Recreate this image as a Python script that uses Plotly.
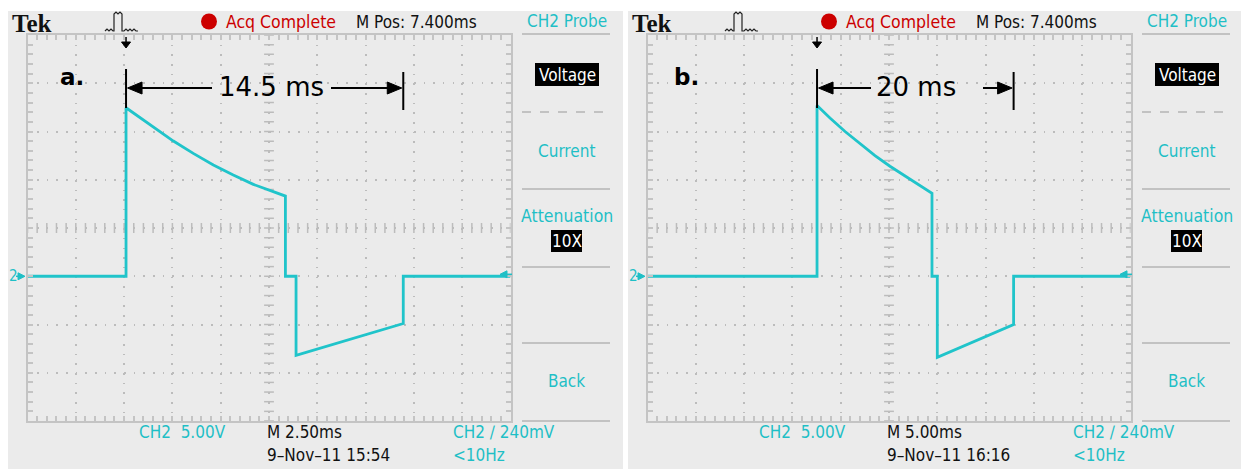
import numpy as np
import plotly.graph_objects as go

W, H = 1241, 469

# ---------------- data (time in ms from left screen edge, volts relative to CH2 ground) -------------
t_a = [0, 5.10, 5.10, 5.82, 6.51, 7.55, 8.58, 9.62, 10.65, 11.69, 12.72, 13.35, 13.35, 13.90, 13.90, 19.45, 19.45, 25]
v_a = [0, 0, 17.46, 16.45, 15.55, 14.01, 12.73, 11.52, 10.49, 9.52, 8.77, 8.31, 0, 0, -8.2, -4.9, 0, 0]
t_b = [0, 17.55, 17.55, 18.89, 20.45, 22.0, 23.55, 25.10, 26.65, 28.21, 29.45, 29.45, 30.0, 30.0, 37.9, 37.9, 50]
v_b = [0, 0, 17.70, 16.40, 15.00, 13.70, 12.50, 11.40, 10.40, 9.45, 8.60, 0, 0, -8.4, -5.0, 0, 0]

ms_per_div = [2.5, 5.0]
volts_per_div = 5.0
panel_tags = ["a.", "b."]
span_labels = ["14.5 ms", "20 ms"]
span_start = [5.10, 17.55]
span_end = [19.45, 37.9]
timebase_labels = ["M 2.50ms", "M 5.00ms"]
date_labels = ["9\u2013Nov\u201311 15:54", "9\u2013Nov\u201311 16:16"]
menu_items = ["CH2 Probe", "Current", "Attenuation", "Back"]

# ---------------- geometry helpers -------------
OFF = [0, 620]
GX0, GX1 = 27.5, 510.5
GY0, GY1 = 35, 421
DIV = (GX1 - GX0) / 10.0

def px(x):
    return x / W

def py(y):
    return 1 - y / H

CYAN = "#1fbfc6"
TRACE = "#20c4ca"
GRAY_BG = "#ebebeb"
GRID = "#bcbcbc"
FRAME = "#c4c4c4"
SCOPE_FONT = "DejaVu Sans Condensed, Liberation Sans Narrow, Roboto, sans-serif"

fig = go.Figure()
shapes = []
ann = []

for i in range(2):
    o = OFF[i]
    xa = "x" if i == 0 else "x2"
    ya = "y" if i == 0 else "y2"
    xrng = [0, 10 * ms_per_div[i]]
    yrng = [-3 * volts_per_div, 5 * volts_per_div]

    # gray bezel
    shapes.append(dict(type="rect", xref="paper", yref="paper", layer="below",
                       x0=px(8 + o), x1=px(623 + o if i == 0 else W), y0=py(469), y1=py(11),
                       fillcolor=GRAY_BG, line=dict(width=0)))

    # center-line tick marks (graticule)
    xc = (xrng[0] + xrng[1]) / 2
    yc = (yrng[0] + yrng[1]) / 2
    ys = np.arange(yrng[0], yrng[1] + 1e-9, volts_per_div / 5)
    xs = np.arange(xrng[0], xrng[1] + 1e-9, ms_per_div[i] / 5)
    fig.add_trace(go.Scatter(x=[xc] * len(ys), y=ys, mode="markers", xaxis=xa, yaxis=ya,
                             marker=dict(symbol="line-ew", size=7, line=dict(color=GRID, width=1.5)),
                             hoverinfo="skip", showlegend=False))
    fig.add_trace(go.Scatter(x=xs, y=[yc] * len(xs), mode="markers", xaxis=xa, yaxis=ya,
                             marker=dict(symbol="line-ns", size=7, line=dict(color=GRID, width=1.5)),
                             hoverinfo="skip", showlegend=False))

    # waveform
    t = t_a if i == 0 else t_b
    v = v_a if i == 0 else v_b
    fig.add_trace(go.Scatter(x=t, y=v, mode="lines", xaxis=xa, yaxis=ya,
                             line=dict(color=TRACE, width=2.8), hoverinfo="skip", showlegend=False))

    def tpx(tt, i=i, o=o):
        return o + GX0 + tt / (10 * ms_per_div[i]) * (GX1 - GX0)

    # header
    ann.append(dict(x=px(10 + o), y=py(23), text="<b>Tek</b>", xanchor="left", yanchor="middle",
                    font=dict(family="Liberation Serif, serif", size=25, color="#111111")))
    bx = 105 + o
    path = (f"M {px(bx)},{py(31)} L {px(bx+2)},{py(29)} L {px(bx+4)},{py(31)} L {px(bx+6)},{py(29)} "
            f"L {px(bx+8)},{py(31)} L {px(bx+9)},{py(31)} L {px(bx+9)},{py(14)} L {px(bx+11)},{py(12)} "
            f"L {px(bx+13)},{py(14)} L {px(bx+15)},{py(12)} L {px(bx+17)},{py(14)} L {px(bx+17)},{py(31)} "
            f"L {px(bx+19)},{py(31)} L {px(bx+21)},{py(29)} L {px(bx+23)},{py(31)} L {px(bx+25)},{py(29)} "
            f"L {px(bx+27)},{py(31)} L {px(bx+29)},{py(29)} L {px(bx+31)},{py(31)} L {px(bx+33)},{py(31)}")
    shapes.append(dict(type="path", xref="paper", yref="paper", path=path,
                       line=dict(color="#222222", width=1.2)))
    shapes.append(dict(type="circle", xref="paper", yref="paper",
                       x0=px(201 + o), x1=px(217 + o), y0=py(29.5), y1=py(13.5),
                       fillcolor="#cc0000", line=dict(width=0)))
    ann.append(dict(x=px(224 + o), y=py(22), text="Acq Complete", xanchor="left", yanchor="middle",
                    font=dict(family=SCOPE_FONT, size=17.5, color="#cc0000")))
    ann.append(dict(x=px(354 + o), y=py(22), text="M Pos: 7.400ms", xanchor="left", yanchor="middle",
                    font=dict(family=SCOPE_FONT, size=17, color="#111111")))

    # right menu
    mx = 566.5 + o
    ann.append(dict(x=px(mx), y=py(21), text=menu_items[0], xanchor="center", yanchor="middle",
                    font=dict(family=SCOPE_FONT, size=17, color=CYAN)))
    shapes.append(dict(type="rect", xref="paper", yref="paper", x0=px(535 + o), x1=px(599 + o),
                       y0=py(86), y1=py(63), fillcolor="black", line=dict(width=0)))
    ann.append(dict(x=px(567 + o), y=py(74.5), text="Voltage", xanchor="center", yanchor="middle",
                    font=dict(family=SCOPE_FONT, size=17, color="white")))
    ann.append(dict(x=px(mx), y=py(151), text=menu_items[1], xanchor="center", yanchor="middle",
                    font=dict(family=SCOPE_FONT, size=17, color=CYAN)))
    ann.append(dict(x=px(mx), y=py(216), text=menu_items[2], xanchor="center", yanchor="middle",
                    font=dict(family=SCOPE_FONT, size=17.5, color=CYAN)))
    shapes.append(dict(type="rect", xref="paper", yref="paper", x0=px(551 + o), x1=px(582 + o),
                       y0=py(252), y1=py(230), fillcolor="black", line=dict(width=0)))
    ann.append(dict(x=px(566.5 + o), y=py(241), text="10X", xanchor="center", yanchor="middle",
                    font=dict(family=SCOPE_FONT, size=17, color="white")))
    ann.append(dict(x=px(mx), y=py(381), text=menu_items[3], xanchor="center", yanchor="middle",
                    font=dict(family=SCOPE_FONT, size=17, color=CYAN)))
    for yy, dash in [(34, "solid"), (112, "dash"), (189, "solid"), (267, "solid"), (343, "solid"), (421, "solid")]:
        shapes.append(dict(type="line", xref="paper", yref="paper", x0=px(522 + o), x1=px(610 + o),
                           y0=py(yy), y1=py(yy), line=dict(color="#c2c2c2", width=2, dash=dash)))

    # bottom readouts
    ann.append(dict(x=px(137 + o), y=py(432), text="CH2&nbsp;&nbsp;5.00V", xanchor="left", yanchor="middle",
                    font=dict(family=SCOPE_FONT, size=17, color=CYAN)))
    ann.append(dict(x=px(265 + o), y=py(432), text=timebase_labels[i], xanchor="left", yanchor="middle",
                    font=dict(family=SCOPE_FONT, size=17, color="#111111")))
    ann.append(dict(x=px(265 + o), y=py(455), text=date_labels[i], xanchor="left", yanchor="middle",
                    font=dict(family=SCOPE_FONT, size=17, color="#111111")))
    ann.append(dict(x=px(451 + o), y=py(432), text="CH2&nbsp;\u2215&nbsp;240mV", xanchor="left", yanchor="middle",
                    font=dict(family=SCOPE_FONT, size=17, color=CYAN)))
    ann.append(dict(x=px(451 + o), y=py(455), text="&lt;10Hz", xanchor="left", yanchor="middle",
                    font=dict(family=SCOPE_FONT, size=17, color=CYAN)))

    # ground marker (left) and trigger level marker (right)
    gy = (GY0 + GY1) / 2 + DIV
    ann.append(dict(x=px(13 + o), y=py(gy), text="2", xanchor="center", yanchor="middle",
                    font=dict(family=SCOPE_FONT, size=15, color=CYAN)))
    shapes.append(dict(type="path", xref="paper", yref="paper",
                       path=f"M {px(18+o)},{py(gy-3.5)} L {px(25+o)},{py(gy)} L {px(18+o)},{py(gy+3.5)} Z",
                       fillcolor=CYAN, line=dict(color=CYAN, width=1)))
    shapes.append(dict(type="line", xref="paper", yref="paper", x0=px(16 + o), x1=px(22 + o),
                       y0=py(gy), y1=py(gy), line=dict(color=CYAN, width=1.5)))
    shapes.append(dict(type="path", xref="paper", yref="paper",
                       path=f"M {px(500+o)},{py(gy-2)} L {px(507+o)},{py(gy-2-3.5)} L {px(507+o)},{py(gy-2+3.5)} Z",
                       fillcolor=CYAN, line=dict(color=CYAN, width=1)))
    shapes.append(dict(type="line", xref="paper", yref="paper", x0=px(503 + o), x1=px(512 + o),
                       y0=py(gy - 2), y1=py(gy - 2), line=dict(color=CYAN, width=1.5)))

    # trigger position marker on top
    tx = tpx(span_start[i])
    shapes.append(dict(type="line", xref="paper", yref="paper", x0=px(tx), x1=px(tx),
                       y0=py(37), y1=py(43), line=dict(color="black", width=1.5)))
    shapes.append(dict(type="path", xref="paper", yref="paper",
                       path=f"M {px(tx-4.5)},{py(42)} L {px(tx+4.5)},{py(42)} L {px(tx)},{py(48)} Z",
                       fillcolor="black", line=dict(color="black", width=1)))

    # measurement annotation
    ann.append(dict(x=px([72, 686][i]), y=py(77), text=f"<b>{panel_tags[i]}</b>",
                    xanchor="center", yanchor="middle",
                    font=dict(family="DejaVu Sans, Verdana, sans-serif", size=23, color="black")))
    x0 = tpx(span_start[i])
    x1 = tpx(span_end[i])
    shapes.append(dict(type="line", xref="paper", yref="paper", x0=px(x0), x1=px(x0),
                       y0=py(69), y1=py(108), line=dict(color="black", width=2)))
    shapes.append(dict(type="line", xref="paper", yref="paper", x0=px(x1), x1=px(x1),
                       y0=py(72), y1=py(110), line=dict(color="black", width=2)))
    lbl_c = [271, 916][i]
    lbl_half = [56, 42][i]
    gap = 3
    ay = 88
    shapes.append(dict(type="line", xref="paper", yref="paper", x0=px(x0 + 14), x1=px(lbl_c - lbl_half - gap),
                       y0=py(ay), y1=py(ay), line=dict(color="black", width=2)))
    shapes.append(dict(type="path", xref="paper", yref="paper",
                       path=f"M {px(x0+1.5)},{py(ay)} L {px(x0+16)},{py(ay-6)} L {px(x0+16)},{py(ay+6)} Z",
                       fillcolor="black", line=dict(color="black", width=1)))
    rstart = [331, 983][i]
    shapes.append(dict(type="line", xref="paper", yref="paper", x0=px(rstart), x1=px(x1 - 14),
                       y0=py(ay), y1=py(ay), line=dict(color="black", width=2)))
    shapes.append(dict(type="path", xref="paper", yref="paper",
                       path=f"M {px(x1-1.5)},{py(ay)} L {px(x1-16)},{py(ay-6)} L {px(x1-16)},{py(ay+6)} Z",
                       fillcolor="black", line=dict(color="black", width=1)))
    ann.append(dict(x=px(lbl_c), y=py(87), text=span_labels[i], xanchor="center", yanchor="middle",
                    font=dict(family="DejaVu Sans, Verdana, sans-serif", size=26, color="black")))

# ---------------- axes -------------
DOT = f"1.6px,{DIV/5-1.6:.2f}px"

def xaxis_cfg(i):
    o = OFF[i]
    d = ms_per_div[i]
    return dict(domain=[px(GX0 + o), px(GX1 + o)], range=[0, 10 * d], dtick=d, tick0=0,
                showgrid=True, gridcolor=GRID, gridwidth=1.6, griddash=DOT,
                zeroline=False, showline=True, linecolor=FRAME, linewidth=2, mirror="allticks",
                ticks="inside", ticklen=5, tickcolor=FRAME, tickwidth=1.5, showticklabels=False,
                minor=dict(dtick=d / 5, ticks="inside", ticklen=5, tickcolor=FRAME, tickwidth=1.5, showgrid=False),
                fixedrange=True)

def yaxis_cfg(i):
    d = volts_per_div
    return dict(domain=[py(GY1), py(GY0)], range=[-3 * d, 5 * d], dtick=d, tick0=0,
                showgrid=True, gridcolor=GRID, gridwidth=1.6, griddash=DOT,
                zeroline=False, showline=True, linecolor=FRAME, linewidth=2, mirror="allticks",
                ticks="inside", ticklen=5, tickcolor=FRAME, tickwidth=1.5, showticklabels=False,
                minor=dict(dtick=d / 5, ticks="inside", ticklen=5, tickcolor=FRAME, tickwidth=1.5, showgrid=False),
                fixedrange=True)

xa1 = xaxis_cfg(0); xa1["anchor"] = "y"
xa2 = xaxis_cfg(1); xa2["anchor"] = "y2"
ya1 = yaxis_cfg(0); ya1["anchor"] = "x"
ya2 = yaxis_cfg(1); ya2["anchor"] = "x2"

fig.update_layout(
    width=W, height=H, autosize=False,
    margin=dict(l=0, r=0, t=0, b=0, pad=0),
    paper_bgcolor="white", plot_bgcolor="white",
    xaxis=xa1, yaxis=ya1, xaxis2=xa2, yaxis2=ya2,
    shapes=shapes, annotations=[dict(a, showarrow=False, xref="paper", yref="paper") for a in ann],
    showlegend=False,
)

fig.write_html("out.html", config={"displayModeBar": False})
